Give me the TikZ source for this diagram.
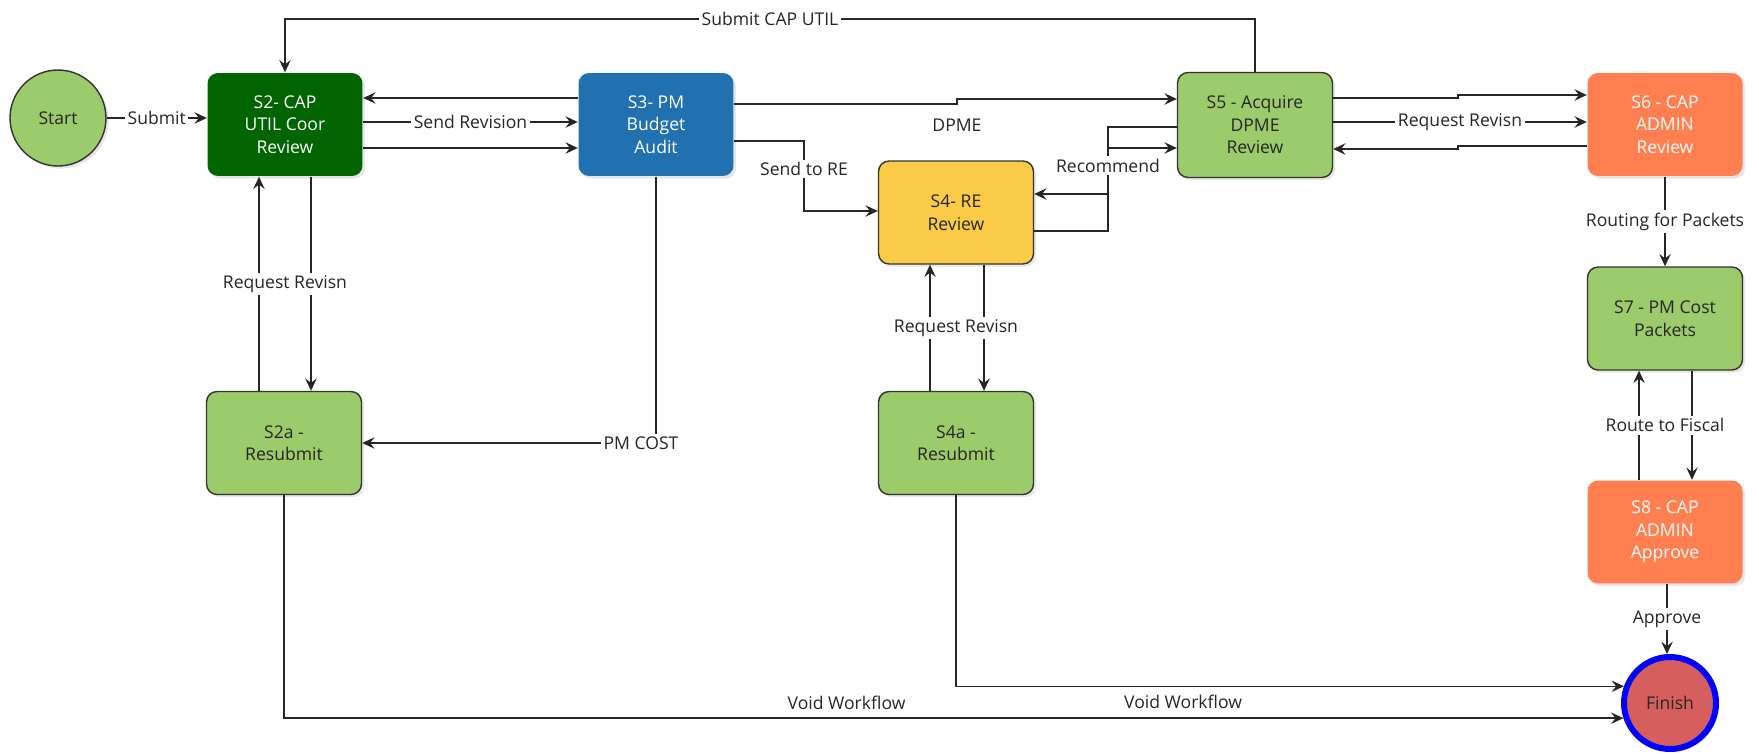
\documentclass[tikz,border=0pt]{standalone}
\usepackage{fontspec}
\setmainfont{Open Sans}
\usetikzlibrary{arrows.meta,shadows}
\definecolor{stgreen}{RGB}{155,203,106}
\definecolor{stdarkgreen}{RGB}{0,100,0}
\definecolor{stblue}{RGB}{33,113,177}
\definecolor{styellow}{RGB}{249,203,71}
\definecolor{stcoral}{RGB}{255,127,80}
\definecolor{finishred}{RGB}{214,94,94}
\definecolor{finishring}{RGB}{0,0,255}
\newcommand\statefont{\fontsize{10}{12.8}\selectfont}
\newcommand\labelfont{\fontsize{10}{12}\selectfont}
\tikzset{
	stbox/.style={draw=black!80, line width=0.8pt, rounded corners=6pt, minimum width=3.1cm, minimum height=2.06cm, align=center, font=\statefont, text=black!85, drop shadow={shadow xshift=1.5pt, shadow yshift=-1.5pt, opacity=0.2}},
	stdark/.style={stbox, draw=none, text=white},
	ends/.style={circle, draw=black!80, line width=0.8pt, font=\statefont, text=black!85, drop shadow={shadow xshift=1.5pt, shadow yshift=-1.5pt, opacity=0.2}},
	flow/.style={draw=black!85, line width=0.8pt, -{Stealth[length=7pt, width=6.5pt, inset=2.5pt]}},
	lbl/.style={fill=white, inner sep=1.5pt, font=\labelfont, text=black!85}
}

\begin{document}
\begin{tikzpicture}[x=0.02cm, y=-0.02cm]
	\useasboundingbox (0,0) rectangle (1759,754);

	\node[ends, fill=stgreen, minimum size=1.92cm] (start) at (58,118) {Start};
	\node[stdark, fill=stdarkgreen] (s2) at (285,124.5) {S2- CAP\\UTIL Coor\\Review};
	\node[stdark, fill=stblue] (s3) at (656,124.5) {S3- PM\\Budget\\Audit};
	\node[stbox, fill=styellow] (s4) at (956,212.5) {S4- RE\\Review};
	\node[stbox, fill=stgreen, minimum height=2.1cm] (s5) at (1255,125) {S5 - Acquire\\DPME\\Review};
	\node[stdark, fill=stcoral] (s6) at (1665,124.5) {S6 - CAP\\ADMIN\\Review};
	\node[stbox, fill=stgreen] (s7) at (1665,318.5) {S7 - PM Cost\\Packets};
	\node[stdark, fill=stcoral] (s8) at (1665,532) {S8 - CAP\\ADMIN\\Approve};
	\node[stbox, fill=stgreen] (s2a) at (284,443) {S2a -\\Resubmit};
	\node[stbox, fill=stgreen] (s4a) at (956,443) {S4a -\\Resubmit};
	\node[ends, fill=finishred, draw=finishring, line width=0.12cm, minimum size=1.84cm] (finish) at (1670,703) {Finish};

	\draw[flow] (start.east) -- node[lbl] {Submit} (s2.west |- start.east);

	\draw[flow] (s3.west |- 0,98) -- (s2.east |- 0,98);
	\draw[flow] (s2.east |- 0,122) -- node[lbl] {Send Revision} (s3.west |- 0,122);
	\draw[flow] (s2.east |- 0,148) -- (s3.west |- 0,148);

	\draw[flow] (s3.east |- 0,104) -- (957,104) -- node[lbl, below=8pt] {DPME} (957,99) -- (s5.west |- 0,99);
	\draw[flow] (s3.east |- 0,141) -| node[lbl, pos=0.7] {Send to RE} (804,211) -- (s4.west |- 0,211);

	\draw[flow] (s4.east |- 0,231) -| (1108,148) -- (s5.west |- 0,148);
	\draw[flow] (s5.west |- 0,127) -| node[lbl, pos=0.79] {Recommend} (1108,194) -- (s4.east |- 0,194);

	\draw[flow] (s5.north) |- node[lbl, pos=0.75] {Submit CAP UTIL} (s2.north |- 0,19) -- (s2.north);

	\draw[flow] (s5.east |- 0,98) -- (1458,98) -- (1458,95) -- (s6.west |- 0,95);
	\draw[flow] (s5.east |- 0,122) -- node[lbl] {Request Revisn} (s6.west |- 0,122);
	\draw[flow] (s6.west |- 0,146) -- (1458,146) -- (1458,149) -- (s5.east |- 0,149);

	\draw[flow] (s6) -- node[lbl] {Routing for Packets} (s7);
	\draw[flow] (s7.south -| 1692,0) -- (s8.north -| 1692,0);
	\draw[flow] (s8.north -| 1639,0) -- node[lbl, xshift=0.52cm] {Route to Fiscal} (s7.south -| 1639,0);
	\draw[flow] (s8.south -| 1667,0) -- node[lbl] {Approve} (finish.north -| 1667,0);

	\draw[flow] (s2.south -| 311,0) -- (s2a.north -| 311,0);
	\draw[flow] (s2a.north -| 259,0) -- node[lbl, xshift=0.52cm] {Request Revisn} (s2.south -| 259,0);
	\draw[flow] (s4.south -| 984,0) -- (s4a.north -| 984,0);
	\draw[flow] (s4a.north -| 930,0) -- node[lbl, xshift=0.52cm] {Request Revisn} (s4.south -| 930,0);

	\draw[flow] (s3.south) |- node[lbl, pos=0.5, xshift=-0.3cm] {PM COST} (s2a.east);

	\draw[flow] (s2a.south) |- node[lbl, pos=0.71, above=3pt] {Void Workflow} (finish.198);
	\draw[flow] (s4a.south) |- node[lbl, pos=0.67, below=3pt] {Void Workflow} (finish.160);
\end{tikzpicture}
\end{document}
